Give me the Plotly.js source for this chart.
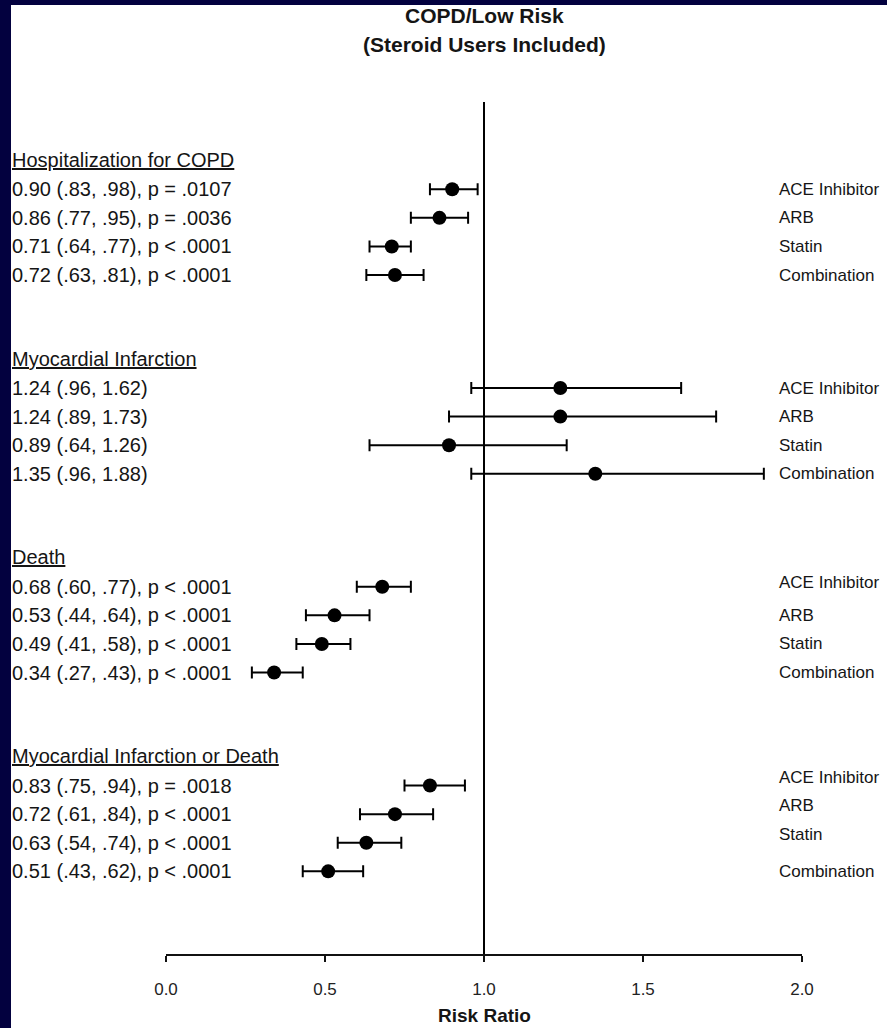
<!DOCTYPE html>
<html>
<head>
<meta charset="utf-8">
<script src="https://cdn.plot.ly/plotly-3.0.1.min.js"></script>
<style>
  html, body { margin: 0; padding: 0; background: #03013f; width: 887px; height: 1028px; overflow: hidden; }
  #chart { position: absolute; left: 11px; top: 5px; width: 876px; height: 1023px; background: #ffffff; }
</style>
</head>
<body>
<div id="chart"></div>
<script>
// ---- Data ----
const groups = ["Hospitalization for COPD", "Myocardial Infarction", "Death", "Myocardial Infarction or Death"];
const treatments = ["ACE Inhibitor", "ARB", "Statin", "Combination"];

const hospRR = [0.90, 0.86, 0.71, 0.72];
const hospLo = [0.83, 0.77, 0.64, 0.63];
const hospHi = [0.98, 0.95, 0.77, 0.81];
const hospP  = ["p = .0107", "p = .0036", "p &lt; .0001", "p &lt; .0001"];

const miRR = [1.24, 1.24, 0.89, 1.35];
const miLo = [0.96, 0.89, 0.64, 0.96];
const miHi = [1.62, 1.73, 1.26, 1.88];
const miP  = ["", "", "", ""];

const deathRR = [0.68, 0.53, 0.49, 0.34];
const deathLo = [0.60, 0.44, 0.41, 0.27];
const deathHi = [0.77, 0.64, 0.58, 0.43];
const deathP  = ["p &lt; .0001", "p &lt; .0001", "p &lt; .0001", "p &lt; .0001"];

const midRR = [0.83, 0.72, 0.63, 0.51];
const midLo = [0.75, 0.61, 0.54, 0.43];
const midHi = [0.94, 0.84, 0.74, 0.62];
const midP  = ["p = .0018", "p &lt; .0001", "p &lt; .0001", "p &lt; .0001"];

const xTickVals = [0, 0.5, 1.0, 1.5, 2.0];
const xTickText = ["0.0", "0.5", "1.0", "1.5", "2.0"];

const table = [
  {rr: hospRR, lo: hospLo, hi: hospHi, p: hospP},
  {rr: miRR, lo: miLo, hi: miHi, p: miP},
  {rr: deathRR, lo: deathLo, hi: deathHi, p: deathP},
  {rr: midRR, lo: midLo, hi: midHi, p: midP}
];

// ---- Layout constants (row units) ----
const GROUP_START = 3.05, GROUP_STEP = 6.95, HEADER_OFFSET = 1.03, Y_MAX = 29.79;
const RIGHT_SHIFT = [[0,0,0,0],[0,0,0,0],[4,0,0,0],[8,9,8,0]];
const FONT = "Liberation Sans, Arial, Helvetica, sans-serif";
const TXT = "#151515";
const LEFT_X = -0.2453, RIGHT_X = 0.9608;

function fmt(v) { const s = v.toFixed(2); return v < 1 ? s.slice(1) : s; }

const xs = [], ys = [], ep = [], em = [];
const annotations = [];

table.forEach((g, gi) => {
  const y0 = GROUP_START + gi * GROUP_STEP;
  annotations.push({
    xref: "paper", yref: "y", x: LEFT_X, y: y0 - HEADER_OFFSET,
    xanchor: "left", yanchor: "middle", showarrow: false,
    text: "<u>" + groups[gi] + "</u>", font: {family: FONT, size: 20, color: TXT}
  });
  g.rr.forEach((v, i) => {
    const y = y0 + i;
    xs.push(v); ys.push(y);
    ep.push(g.hi[i] - v); em.push(v - g.lo[i]);
    let label = v.toFixed(2) + " (" + fmt(g.lo[i]) + ", " + fmt(g.hi[i]) + ")";
    if (g.p[i]) label += ", " + g.p[i];
    annotations.push({
      xref: "paper", yref: "y", x: LEFT_X, y: y,
      xanchor: "left", yanchor: "middle", showarrow: false,
      text: label, font: {family: FONT, size: 20, color: TXT}
    });
    annotations.push({
      xref: "paper", yref: "y", x: RIGHT_X, y: y, yshift: RIGHT_SHIFT[gi][i],
      xanchor: "left", yanchor: "middle", showarrow: false,
      text: treatments[i], font: {family: FONT, size: 17, color: TXT}
    });
  });
});

// Title and axis label
annotations.push({xref: "paper", yref: "paper", x: 0.5, y: 1.1021, xanchor: "center", yanchor: "middle",
  showarrow: false, text: "<b>COPD/Low Risk</b>", font: {family: FONT, size: 21, color: TXT}});
annotations.push({xref: "paper", yref: "paper", x: 0.5, y: 1.068, xanchor: "center", yanchor: "middle",
  showarrow: false, text: "<b>(Steroid Users Included)</b>", font: {family: FONT, size: 21, color: TXT}});
annotations.push({xref: "paper", yref: "paper", x: 0.5, y: -0.0716, xanchor: "center", yanchor: "middle",
  showarrow: false, text: "<b>Risk Ratio</b>", font: {family: FONT, size: 19, color: TXT}});

const trace = {
  type: "scatter", mode: "markers", x: xs, y: ys,
  marker: {color: "#000000", size: 14},
  error_x: {type: "data", symmetric: false, array: ep, arrayminus: em,
            color: "#000000", thickness: 2, width: 6},
  hoverinfo: "skip", showlegend: false
};

const layout = {
  width: 876, height: 1023,
  margin: {l: 155, r: 85, t: 97, b: 74, pad: 0},
  paper_bgcolor: "#ffffff", plot_bgcolor: "#ffffff",
  showlegend: false,
  xaxis: {
    range: [0, 2], tickvals: xTickVals, ticktext: xTickText,
    showline: true, linecolor: "#111111", linewidth: 2,
    ticks: "outside", ticklen: 6, tickwidth: 2, tickcolor: "#111111",
    showgrid: false, zeroline: false, fixedrange: true,
    tickfont: {family: FONT, size: 17, color: "#222222"},
    ticklabelstandoff: 13
  },
  yaxis: {range: [Y_MAX, 0], visible: false, fixedrange: true, showgrid: false, zeroline: false},
  shapes: [{type: "line", xref: "x", yref: "paper", x0: 1, x1: 1, y0: 0, y1: 1,
            line: {color: "#000000", width: 2}}],
  annotations: annotations
};

Plotly.newPlot("chart", [trace], layout, {staticPlot: true, displayModeBar: false});
</script>
</body>
</html>
